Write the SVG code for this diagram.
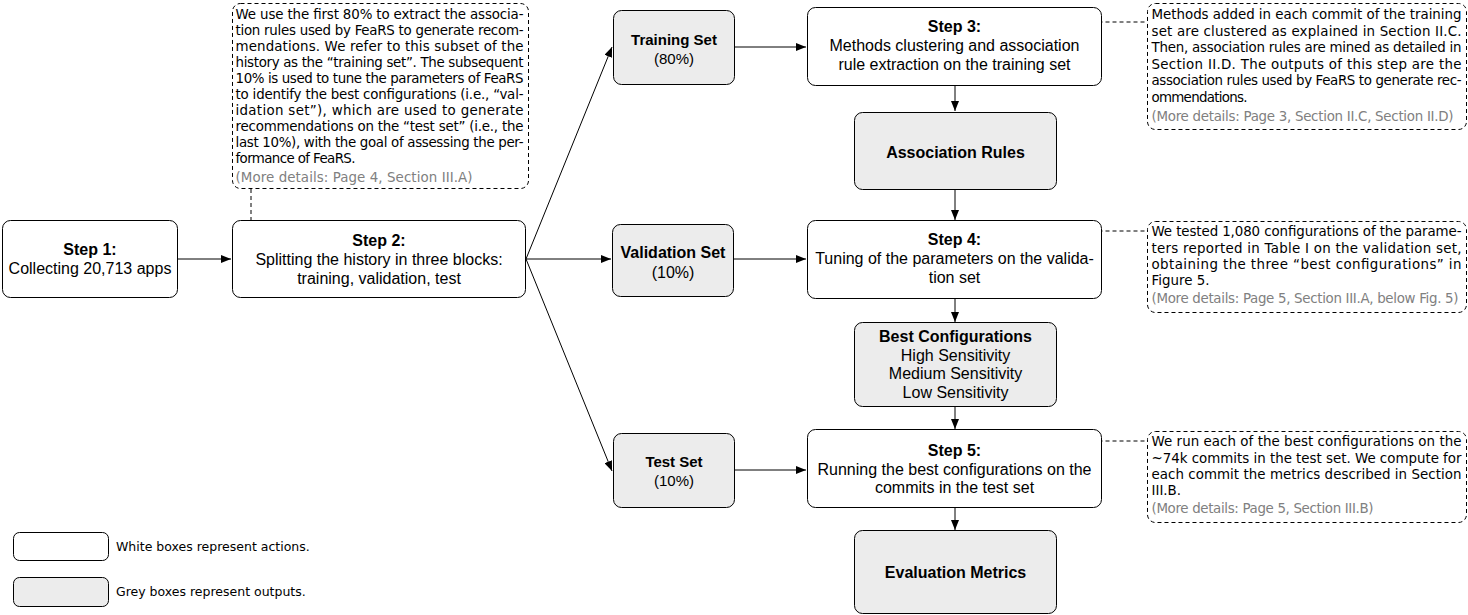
<svg xmlns="http://www.w3.org/2000/svg" width="1468" height="615" viewBox="0 0 1468 615">
<style>
.box{fill:#ffffff;stroke:#000;stroke-width:1}
.out{fill:#ececec;stroke:#000;stroke-width:1}
.note{fill:#ffffff;stroke:#000;stroke-width:1;stroke-dasharray:4 3}
.t{font-family:"Liberation Sans",Arial,sans-serif;font-size:16px;fill:#000;text-anchor:middle}
.t15{font-size:15px}
.b{font-weight:bold}
.n{font-family:"DejaVu Sans","Noto Sans",sans-serif;font-size:13.4px;fill:#000}
.lg{font-size:12.5px}
.g{fill:#808080}
.arr{fill:none;stroke:#000;stroke-width:1;marker-end:url(#ah)}
.lnk{fill:none;stroke:#000;stroke-width:1;stroke-dasharray:4 3}
.dot{fill:#fff;stroke:#000;stroke-width:1}
</style>
<defs>
<marker id="ah" viewBox="0 0 10 8" refX="10" refY="4" markerWidth="10" markerHeight="8" markerUnits="userSpaceOnUse" orient="auto">
<path d="M0,0 L10,4 L0,8 z" fill="#000"/>
</marker>
</defs>
<rect width="1468" height="615" fill="#ffffff"/>

<g id="connectors">
<path class="arr" d="M178,259 H231"/>
<path class="arr" d="M526,259 L612,47"/>
<path class="arr" d="M526,259 H611"/>
<path class="arr" d="M526,259 L612,471"/>
<path class="arr" d="M735,47 H806"/>
<path class="arr" d="M734,259 H806"/>
<path class="arr" d="M735,470 H806"/>
<path class="arr" d="M955,86 V111"/>
<path class="arr" d="M955,190 V220"/>
<path class="arr" d="M955,299 V322"/>
<path class="arr" d="M955,407 V429"/>
<path class="arr" d="M955,508 V530"/>
<path class="lnk" d="M251,189 V228.5"/>
<circle class="dot" cx="251" cy="232" r="3.5"/>
<path class="lnk" d="M1084.5,22 H1147"/>
<circle class="dot" cx="1081" cy="22" r="3.5"/>
<path class="lnk" d="M1084.5,231 H1147"/>
<circle class="dot" cx="1081" cy="231" r="3.5"/>
<path class="lnk" d="M1084.5,441 H1147"/>
<circle class="dot" cx="1081" cy="441" r="3.5"/>
</g>

<g id="step1">
<rect class="box" x="2.5" y="220.5" width="175" height="77" rx="8"/>
<text class="t b" x="90" y="255">Step 1:</text>
<text class="t" x="90" y="274">Collecting 20,713 apps</text>
</g>

<g id="step2">
<rect class="box" x="232.5" y="220.5" width="293" height="77" rx="8"/>
<text class="t b" x="379" y="246">Step 2:</text>
<text class="t" x="379" y="265">Splitting the history in three blocks:</text>
<text class="t" x="379" y="284">training, validation, test</text>
</g>

<g id="note-step2">
<rect class="note" x="232.5" y="3.5" width="296" height="185" rx="8"/>
<text class="n" x="235.5" y="19" textLength="288" lengthAdjust="spacing">We use the first 80% to extract the associa-</text>
<text class="n" x="235.5" y="35" textLength="288" lengthAdjust="spacing">tion rules used by FeaRS to generate recom-</text>
<text class="n" x="235.5" y="51" textLength="288" lengthAdjust="spacing">mendations. We refer to this subset of the</text>
<text class="n" x="235.5" y="67" textLength="288" lengthAdjust="spacing">history as the “training set”. The subsequent</text>
<text class="n" x="235.5" y="83" textLength="288" lengthAdjust="spacing">10% is used to tune the parameters of FeaRS</text>
<text class="n" x="235.5" y="99" textLength="288" lengthAdjust="spacing">to identify the best configurations (i.e., “val-</text>
<text class="n" x="235.5" y="115" textLength="288" lengthAdjust="spacing">idation set”), which are used to generate</text>
<text class="n" x="235.5" y="131" textLength="288" lengthAdjust="spacing">recommendations on the “test set” (i.e., the</text>
<text class="n" x="235.5" y="147" textLength="288" lengthAdjust="spacing">last 10%), with the goal of assessing the per-</text>
<text class="n" x="235.5" y="163" textLength="120" lengthAdjust="spacing">formance of FeaRS.</text>
<text class="n g" x="235.5" y="181.5" textLength="237" lengthAdjust="spacing">(More details: Page 4, Section III.A)</text>
</g>

<g id="training-set">
<rect class="out" x="613.5" y="10.5" width="121" height="74" rx="8"/>
<text class="t t15 b" x="674" y="44.5">Training Set</text>
<text class="t t15" x="674" y="64">(80%)</text>
</g>

<g id="validation-set">
<rect class="out" x="612.5" y="224.5" width="121" height="72" rx="8"/>
<text class="t b" x="673" y="257.5">Validation Set</text>
<text class="t" x="673" y="278">(10%)</text>
</g>

<g id="test-set">
<rect class="out" x="613.5" y="433.5" width="121" height="74" rx="8"/>
<text class="t t15 b" x="674" y="467">Test Set</text>
<text class="t t15" x="674" y="486">(10%)</text>
</g>

<g id="step3">
<rect class="box" x="807.5" y="7.5" width="294" height="78" rx="8"/>
<text class="t b" x="954.5" y="32">Step 3:</text>
<text class="t" x="954.5" y="51">Methods clustering and association</text>
<text class="t" x="954.5" y="69.5">rule extraction on the training set</text>
</g>

<g id="association-rules">
<rect class="out" x="854.5" y="112.5" width="202" height="77" rx="8"/>
<text class="t b" x="955.5" y="157.5">Association Rules</text>
</g>

<g id="step4">
<rect class="box" x="807.5" y="220.5" width="294" height="78" rx="8"/>
<text class="t b" x="954.5" y="245">Step 4:</text>
<text class="t" x="954.5" y="264">Tuning of the parameters on the valida-</text>
<text class="t" x="954.5" y="282.5">tion set</text>
</g>

<g id="best-configurations">
<rect class="out" x="854.5" y="322.5" width="202" height="84" rx="8"/>
<text class="t b" x="955.5" y="342">Best Configurations</text>
<text class="t" x="955.5" y="360.5">High Sensitivity</text>
<text class="t" x="955.5" y="379">Medium Sensitivity</text>
<text class="t" x="955.5" y="397.5">Low Sensitivity</text>
</g>

<g id="step5">
<rect class="box" x="807.5" y="429.5" width="294" height="78" rx="8"/>
<text class="t b" x="954.5" y="456">Step 5:</text>
<text class="t" x="954.5" y="475">Running the best configurations on the</text>
<text class="t" x="954.5" y="493">commits in the test set</text>
</g>

<g id="evaluation-metrics">
<rect class="out" x="854.5" y="530.5" width="202" height="83" rx="8"/>
<text class="t b" x="955.5" y="578">Evaluation Metrics</text>
</g>

<g id="note-step3">
<rect class="note" x="1147.5" y="3.5" width="319" height="126" rx="8"/>
<text class="n" x="1151.5" y="19" textLength="310" lengthAdjust="spacing">Methods added in each commit of the training</text>
<text class="n" x="1151.5" y="35.5" textLength="310" lengthAdjust="spacing">set are clustered as explained in Section II.C.</text>
<text class="n" x="1151.5" y="52" textLength="310" lengthAdjust="spacing">Then, association rules are mined as detailed in</text>
<text class="n" x="1151.5" y="68.5" textLength="310" lengthAdjust="spacing">Section II.D. The outputs of this step are the</text>
<text class="n" x="1151.5" y="85" textLength="310" lengthAdjust="spacing">association rules used by FeaRS to generate rec-</text>
<text class="n" x="1151.5" y="101.5" textLength="96" lengthAdjust="spacing">ommendations.</text>
<text class="n g" x="1151.5" y="121" textLength="302" lengthAdjust="spacing">(More details: Page 3, Section II.C, Section II.D)</text>
</g>

<g id="note-step4">
<rect class="note" x="1147.5" y="221.5" width="319" height="91" rx="8"/>
<text class="n" x="1151.5" y="236" textLength="310" lengthAdjust="spacing">We tested 1,080 configurations of the parame-</text>
<text class="n" x="1151.5" y="252.5" textLength="310" lengthAdjust="spacing">ters reported in Table I on the validation set,</text>
<text class="n" x="1151.5" y="269" textLength="310" lengthAdjust="spacing">obtaining the three “best configurations” in</text>
<text class="n" x="1151.5" y="285">Figure 5.</text>
<text class="n g" x="1151.5" y="302.5" textLength="307" lengthAdjust="spacing">(More details: Page 5, Section III.A, below Fig. 5)</text>
</g>

<g id="note-step5">
<rect class="note" x="1147.5" y="431.5" width="319" height="91" rx="8"/>
<text class="n" x="1151.5" y="446" textLength="310" lengthAdjust="spacing">We run each of the best configurations on the</text>
<text class="n" x="1151.5" y="462.5" textLength="310" lengthAdjust="spacing">~74k commits in the test set. We compute for</text>
<text class="n" x="1151.5" y="479" textLength="310" lengthAdjust="spacing">each commit the metrics described in Section</text>
<text class="n" x="1151.5" y="495">III.B.</text>
<text class="n g" x="1151.5" y="512.5" textLength="222" lengthAdjust="spacing">(More details: Page 5, Section III.B)</text>
</g>

<g id="legend-actions">
<rect class="box" x="13.5" y="532.5" width="95" height="28" rx="6"/>
<text class="n lg" x="116" y="550.5">White boxes represent actions.</text>
</g>

<g id="legend-outputs">
<rect class="out" x="13.5" y="577.5" width="95" height="29" rx="6"/>
<text class="n lg" x="116" y="595.5">Grey boxes represent outputs.</text>
</g>
</svg>
